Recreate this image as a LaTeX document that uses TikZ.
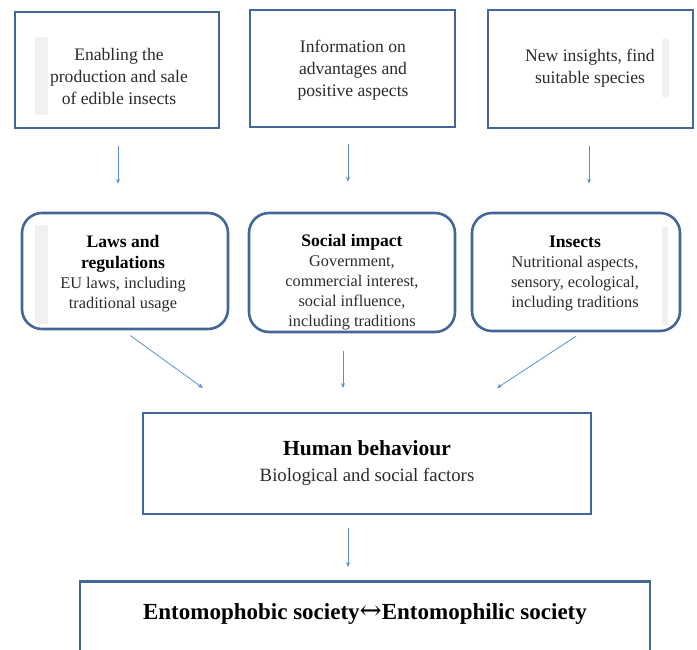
\documentclass[tikz,border=0pt]{standalone}
\usepackage{fontspec}
\setmainfont{Liberation Serif}
\newfontfamily\arrowfont[Scale=1.15]{DejaVu Serif}
\usetikzlibrary{arrows.meta}
\definecolor{boxblue}{HTML}{44679A}
\definecolor{arrblue}{HTML}{5B8ED2}
\definecolor{txt}{HTML}{2B2B2B}
\definecolor{strip}{HTML}{F1F1F1}
\tikzset{
  topbox/.style={draw=boxblue, line width=2.8pt, rectangle, inner sep=0pt, align=center, text=txt,
    font=\fontsize{17.6}{22}\selectfont},
  midbox/.style={draw=boxblue, line width=2.6pt, rounded corners=20pt, rectangle, inner sep=0pt},
  midtext/.style={align=center, text=txt, font=\fontsize{16.3}{20}\selectfont, inner sep=0pt},
  bigbox/.style={draw=boxblue, line width=2.8pt, rectangle, inner sep=0pt},
  arr/.style={draw=arrblue, line width=0.8pt, -{Stealth[length=5pt,width=4pt]}},
}
\newcommand{\hd}[1]{{\fontsize{17.6}{21}\selectfont\bfseries\color{black}#1}}
\begin{document}
\begin{tikzpicture}[x=1pt,y=-1pt]
\useasboundingbox (0,0) rectangle (697,649);
\clip (0,0) rectangle (697,649);
% faint strips
\fill[strip] (35,37) rectangle (48,115);
\fill[strip] (662,39) rectangle (669,97);
\fill[strip] (35,225) rectangle (48,324);
\fill[strip] (662,227) rectangle (668,325);
% top boxes
\node[topbox, minimum width=204pt, minimum height=116pt] (t1) at (117,70) {};
\node[topbox, minimum width=205pt, minimum height=117pt] (t2) at (352.5,68.5) {};
\node[topbox, minimum width=205pt, minimum height=118pt] (t3) at (590.5,69) {};
\node[topbox, draw=none] (t1t) at (119,76) {Enabling the\\production and sale\\of edible insects};
\node[topbox, draw=none] (t2t) at (353,70) {Information on\\advantages and\\positive aspects};
\node[topbox, draw=none] (t3t) at (590,68) {New insights, find\\suitable species};
% middle boxes
\node[midbox, minimum width=206pt, minimum height=116pt] (m1) at (125,271) {};
\node[midbox, minimum width=206pt, minimum height=119pt] (m2) at (352,272.5) {};
\node[midbox, minimum width=208pt, minimum height=118pt] (m3) at (576,272) {};
\node[midtext] (m1t) at (123,274)
  {\hd{Laws and}\\[1pt]\hd{regulations}\\EU laws, including\\traditional usage};
\node[midtext] (m2t) at (352,282)
  {\hd{Social impact}\\Government,\\commercial interest,\\social influence,\\including traditions};
\node[midtext] (m3t) at (575,273)
  {\hd{Insects}\\Nutritional aspects,\\sensory, ecological,\\including traditions};
% human behaviour
\node[bigbox, minimum width=448pt, minimum height=101pt] (hb) at (367,463.5) {};
\node[align=center, text=txt, inner sep=0pt, font=\fontsize{18.8}{26}\selectfont] (hbt) at (367,463)
  {{\fontsize{21.5}{26}\selectfont\bfseries\color{black}Human behaviour}\\
   Biological and social factors};
% bottom box
\node[bigbox, minimum width=570pt, minimum height=100pt, anchor=north] (ent) at (365,580) {};
\node[inner sep=0pt, text=black] (entt) at (365,614)
  {\fontsize{23}{26}\selectfont\bfseries Entomophobic society{\arrowfont\mdseries ↔}Entomophilic society};
% connectors
\coordinate (a2e) at (343,388);
\coordinate (a1e) at (203,388);
\coordinate (a3e) at (497,388);
\coordinate (a4e) at (348,567);
\draw[arr, shorten <=17pt, shorten >=28pt] ([xshift=1pt]t1.south) -- ([xshift=1pt]t1.south |- m1.north);
\draw[arr, shorten <=16pt, shorten >=30pt] ([xshift=-4.5pt]t2.south) -- ([xshift=-4.5pt]t2.south |- m2.north);
\draw[arr, shorten <=17pt, shorten >=28pt] ([xshift=-1.5pt]t3.south) -- ([xshift=-1.5pt]t3.south |- m3.north);
\draw[arr, shorten <=9pt] ([xshift=-2pt]m1.south) -- (a1e);
\draw[arr, shorten <=18pt] ([xshift=-9pt]m2.south) -- (a2e);
\draw[arr, shorten <=7pt] ([xshift=6pt]m3.south) -- (a3e);
\draw[arr, shorten <=13pt] ([xshift=-19pt]hb.south) -- (a4e);
\end{tikzpicture}
\end{document}
